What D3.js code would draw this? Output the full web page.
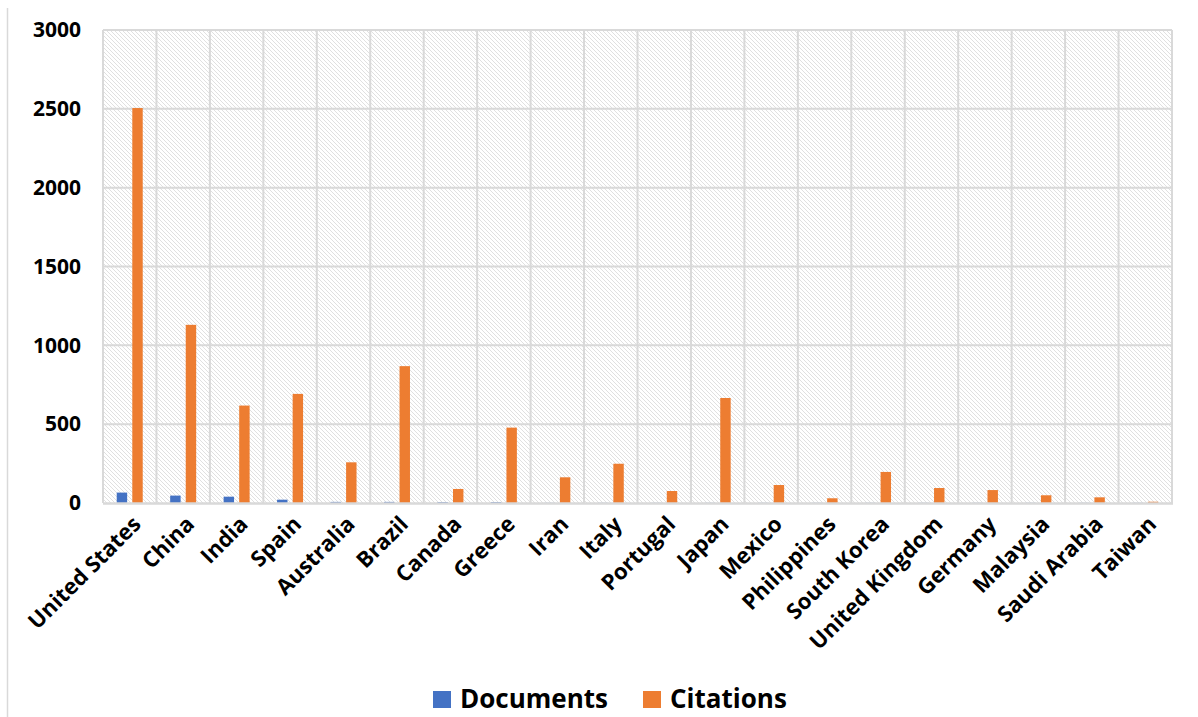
<!DOCTYPE html>
<html>
<head>
<meta charset="utf-8">
<script src="https://cdn.jsdelivr.net/npm/d3@7"></script>
<style>
  html, body { margin: 0; padding: 0; background: #fff; }
  svg { display: block; }
  text { font-family: "Open Sans", sans-serif; font-weight: 700; fill: #000; }
</style>
</head>
<body>
<svg id="chart" width="1198" height="717"></svg>
<script>
const categories = ["United States","China","India","Spain","Australia","Brazil","Canada","Greece","Iran","Italy","Portugal","Japan","Mexico","Philippines","South Korea","United Kingdom","Germany","Malaysia","Saudi Arabia","Taiwan"];
const documents = [66,47,40,21,7,7,6,6,1,1,1,1,1,1,1,1,1,1,1,1];
const citations = [2505,1130,618,692,258,868,89,478,163,249,76,666,114,30,197,95,82,49,36,8];
const seriesNames = ["Documents","Citations"];
const seriesColors = ["#4472C4","#ED7D31"];
const yTicks = [0,500,1000,1500,2000,2500,3000];

const svg = d3.select("#chart");
const W = 1198, H = 717;
const m = {left: 103, right: 1172, top: 30, bottom: 503};

svg.append("line").attr("x1",7.5).attr("x2",7.5).attr("y1",8).attr("y2",H)
  .attr("stroke","#d9d9d9").attr("stroke-width",1.5);

const defs = svg.append("defs");
const pat = defs.append("pattern").attr("id","hatch").attr("patternUnits","userSpaceOnUse")
  .attr("width",4).attr("height",4);
pat.append("rect").attr("width",4).attr("height",4).attr("fill","#ffffff");
pat.append("path").attr("d","M-1,-1 L5,5 M-1,3 L1,5 M3,-1 L5,1")
  .attr("stroke","#dcdcdc").attr("stroke-width",0.9);

const x0 = d3.scaleBand().domain(categories).range([m.left, m.right]).paddingInner(0).paddingOuter(0);
const bw = x0.bandwidth();
const x1 = d3.scaleBand().domain(seriesNames).range([bw/2 - 13, bw/2 + 13]).paddingInner(0.33);
const y = d3.scaleLinear().domain([0,3000]).range([m.bottom, m.top]);

svg.append("rect").attr("x",m.left).attr("y",m.top).attr("width",m.right-m.left).attr("height",m.bottom-m.top)
  .attr("fill","url(#hatch)");

svg.append("g").selectAll("line").data(yTicks.filter(d=>d>0)).join("line")
  .attr("x1",m.left).attr("x2",m.right).attr("y1",d=>y(d)).attr("y2",d=>y(d))
  .attr("stroke","#d9d9d9").attr("stroke-width",2);

const bounds = categories.map(c => x0(c)).concat([m.right]);
svg.append("g").selectAll("line").data(bounds).join("line")
  .attr("x1",d=>d).attr("x2",d=>d).attr("y1",m.top).attr("y2",m.bottom)
  .attr("stroke","#d9d9d9").attr("stroke-width",2);

const seriesData = [documents, citations];
seriesData.forEach((vals, si) => {
  svg.append("g").selectAll("rect").data(vals.map((v,i)=>({c:categories[i], v}))).join("rect")
    .attr("x", d => x0(d.c) + x1(seriesNames[si]))
    .attr("width", x1.bandwidth())
    .attr("y", d => y(d.v))
    .attr("height", d => y(0) - y(d.v))
    .attr("fill", seriesColors[si]);
});

svg.append("line").attr("x1",m.left).attr("x2",m.right+1).attr("y1",m.bottom+0.5).attr("y2",m.bottom+0.5)
  .attr("stroke","#d9d9d9").attr("stroke-width",2.5);

const yAxis = d3.axisLeft(y).tickValues(yTicks).tickFormat(d3.format("d")).tickSize(0).tickPadding(22);
const gy = svg.append("g").attr("transform",`translate(${m.left},0)`).call(yAxis);
gy.select(".domain").remove();
gy.selectAll("text").style("font-family","'Open Sans', sans-serif").style("font-weight","700")
  .style("font-size","21px").attr("fill","#000");

const xAxis = d3.axisBottom(x0).tickSize(0).tickPadding(0);
const gx = svg.append("g").attr("transform",`translate(0,${m.bottom})`).call(xAxis);
gx.select(".domain").remove();
gx.selectAll("text")
  .style("font-family","'Open Sans', sans-serif").style("font-weight","700").style("font-size","22px")
  .attr("fill","#000")
  .attr("text-anchor","end")
  .attr("dy",null).attr("y",null)
  .attr("transform","translate(-1,9) rotate(-45)")
  .attr("dominant-baseline","hanging");

const legend = svg.append("g");
const legItems = [{name:seriesNames[0], color:seriesColors[0], x:433}, {name:seriesNames[1], color:seriesColors[1], x:643}];
legItems.forEach(it => {
  legend.append("rect").attr("x",it.x).attr("y",691).attr("width",18).attr("height",17).attr("fill",it.color);
  legend.append("text").attr("x",it.x+27).attr("y",708).text(it.name)
    .style("font-size","26px");
});
</script>
</body>
</html>
